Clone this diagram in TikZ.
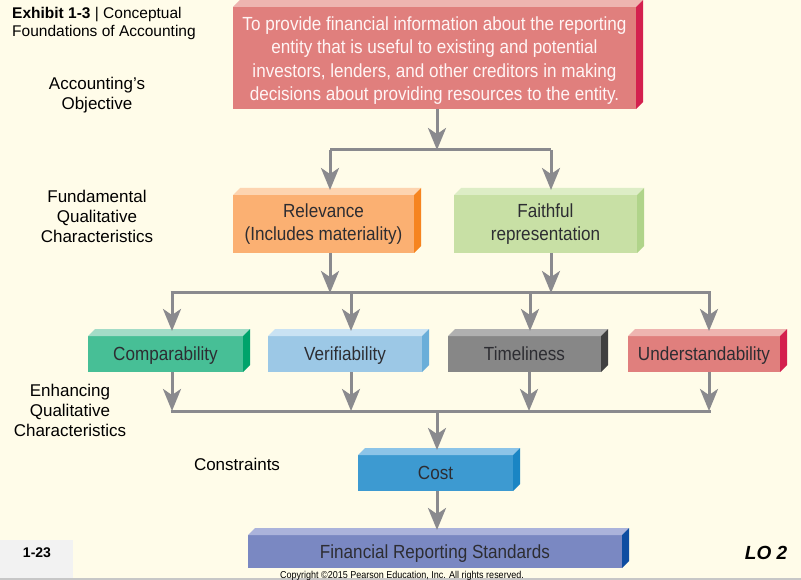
\documentclass[tikz,border=0pt]{standalone}
\usepackage{fontspec}
\setmainfont{Liberation Sans}
\newfontfamily\condfont{Liberation Sans}[FakeStretch=0.9]
\usetikzlibrary{arrows.meta}
\definecolor{bgcream}{RGB}{255,252,233}
\definecolor{arrowgray}{RGB}{138,138,142}
\definecolor{redF}{RGB}{224,127,125}\definecolor{redT}{RGB}{238,180,176}\definecolor{redS}{RGB}{212,32,78}
\definecolor{orF}{RGB}{251,176,114}\definecolor{orT}{RGB}{253,212,176}\definecolor{orS}{RGB}{246,132,31}
\definecolor{grF}{RGB}{200,224,165}\definecolor{grT}{RGB}{221,237,198}\definecolor{grS}{RGB}{176,212,138}
\definecolor{tqF}{RGB}{71,191,150}\definecolor{tqT}{RGB}{163,220,199}\definecolor{tqS}{RGB}{0,163,107}
\definecolor{lbF}{RGB}{156,200,230}\definecolor{lbT}{RGB}{201,226,243}\definecolor{lbS}{RGB}{106,174,217}
\definecolor{gyF}{RGB}{135,135,135}\definecolor{gyT}{RGB}{176,176,176}\definecolor{gyS}{RGB}{64,64,64}
\definecolor{blF}{RGB}{61,154,209}\definecolor{blT}{RGB}{140,196,232}\definecolor{blS}{RGB}{26,133,196}
\definecolor{vlF}{RGB}{122,136,194}\definecolor{vlT}{RGB}{171,179,219}\definecolor{vlS}{RGB}{14,77,161}
\definecolor{boxtext}{RGB}{45,45,50}
\newcommand\cubefaces[3]{%
  \fill[#2] (#1.north west) -- ([shift={(7,-7)}]#1.north west) -- ([shift={(7,-7)}]#1.north east) -- (#1.north east) -- cycle;
  \fill[#3] (#1.north east) -- ([shift={(7,-7)}]#1.north east) -- ([shift={(7,-7)}]#1.south east) -- (#1.south east) -- cycle;
  \coordinate (#1-t) at ([yshift=5pt]#1.north);
}
\tikzset{
  cube/.style={inner sep=0pt, outer sep=0pt, align=center, text=boxtext,
    font=\condfont\fontsize{19}{22.5}\selectfont},
  one/.style={text height=15.6pt, text depth=2pt},
  lbl/.style={inner sep=0pt, align=center, font=\fontsize{17}{20}\selectfont, text=black},
  conn/.style={draw=arrowgray, line width=3pt, -{Stealth[length=22pt,width=18pt,inset=6pt]}},
  bar/.style={draw=arrowgray, line width=3pt},
}
\begin{document}
\begin{tikzpicture}[x=1pt,y=-1pt]
\fill[bgcream] (0,0) rectangle (801,580);
\useasboundingbox (0,0) rectangle (801,580);
% bottom strip
\fill[black!5] (0,540) rectangle (73,578);
\fill[black!22] (0,578) rectangle (801,580);
% title and labels
\node[inner sep=0pt, anchor=west, font=\fontsize{15.5}{18}\selectfont] (title1) at (12,14.5) {\textbf{Exhibit 1-3} | Conceptual};
\node[inner sep=0pt, anchor=west, font=\fontsize{15.5}{18}\selectfont] (title2) at (12,32.5) {Foundations of Accounting};
\node[lbl] (lobj) at (97,95) {Accounting’s\\Objective};
\node[lbl] (lfund) at (97,216.5) {Fundamental\\Qualitative\\Characteristics};
\node[lbl] (lenh) at (70,410) {Enhancing\\Qualitative\\Characteristics};
\node[lbl] (lcon) at (237,464) {Constraints};
% boxes
\node[cube, fill=redF, minimum width=403pt, minimum height=102pt, text=white!96!red,
  font=\condfont\fontsize{19}{23.3}\selectfont] (obj) at (434.5,58) {};
\cubefaces{obj}{redT}{redS}
\node[inner sep=0pt, align=center, text=white!96!red, font=\condfont\fontsize{19}{23.3}\selectfont] (objtext) at (434.5,60.5)
  {To provide financial information about the reporting\\entity that is useful to existing and potential\\investors, lenders, and other creditors in making\\decisions about providing resources to the entity.};
\node[cube, fill=orF, minimum width=181pt, minimum height=58pt] (rel) at (323.5,224) {Relevance\\(Includes materiality)};
\cubefaces{rel}{orT}{orS}
\node[cube, fill=grF, minimum width=183pt, minimum height=58pt] (fai) at (545.5,224) {Faithful\\representation};
\cubefaces{fai}{grT}{grS}
\node[cube, one, fill=tqF, minimum width=155pt, minimum height=36pt] (comp) at (165.5,354) {Comparability};
\cubefaces{comp}{tqT}{tqS}
\node[cube, one, fill=lbF, minimum width=154pt, minimum height=36pt] (ver) at (345,354) {Verifiability};
\cubefaces{ver}{lbT}{lbS}
\node[cube, one, fill=gyF, minimum width=153pt, minimum height=36pt] (tim) at (524.5,354) {Timeliness};
\cubefaces{tim}{gyT}{gyS}
\node[cube, one, fill=redF, minimum width=152pt, minimum height=36pt] (und) at (704,354) {Understandability};
\cubefaces{und}{redT}{redS}
\node[cube, one, fill=blF, minimum width=155pt, minimum height=36pt] (cost) at (435.5,473) {Cost};
\cubefaces{cost}{blT}{blS}
\node[cube, one, fill=vlF, minimum width=374pt, minimum height=33pt] (frs) at (435,551.5) {Financial Reporting Standards};
\cubefaces{frs}{vlT}{vlS}
% connectors
\coordinate (j1) at (437,150);
\coordinate (j1l) at (330,150);
\coordinate (j1r) at (551,150);
\draw[conn] (obj.south -| j1) -- (j1);
\draw[bar] (j1l) -- (j1r);
\draw[conn] (j1l) -- (j1l |- rel-t);
\draw[conn] (j1r) -- (j1r |- fai-t);
\coordinate (j2a) at (172,293);
\coordinate (j2b) at (351,293);
\coordinate (j2c) at (530,293);
\coordinate (j2d) at (709,293);
\draw[conn] (rel.south -| j1l) -- (j1l |- j2a);
\draw[conn] (fai.south -| j1r) -- (j1r |- j2a);
\draw[bar] ([xshift=-1.5pt]j2a) -- ([xshift=1.5pt]j2d);
\draw[conn] (j2a) -- (j2a |- comp-t);
\draw[conn] (j2b) -- (j2b |- ver-t);
\draw[conn] (j2c) -- (j2c |- tim-t);
\draw[conn] (j2d) -- (j2d |- und-t);
\coordinate (j3a) at (172,411);
\coordinate (j3b) at (351,411);
\coordinate (j3c) at (529,411);
\coordinate (j3d) at (709,411);
\coordinate (j3) at (437,411);
\draw[conn] (comp.south -| j3a) -- (j3a);
\draw[conn] (ver.south -| j3b) -- (j3b);
\draw[conn] (tim.south -| j3c) -- (j3c);
\draw[conn] (und.south -| j3d) -- (j3d);
\draw[bar] ([xshift=-1.5pt]j3a) -- ([xshift=1.5pt]j3d);
\draw[conn] (j3) -- (j3 |- cost-t);
\draw[conn] (cost.south -| j3) -- (j3 |- frs-t);
% footer
\node[inner sep=0pt, font=\bfseries\fontsize{14}{16}\selectfont] (page) at (37,553) {1-23};
\node[inner sep=0pt, font=\bfseries\itshape\fontsize{19}{21}\selectfont] (lo) at (766,553) {LO 2};
\node[inner sep=0pt, font=\condfont\fontsize{10}{11}\selectfont] (copy) at (402,576) {Copyright ©2015 Pearson Education, Inc. All rights reserved.};
\end{tikzpicture}
\end{document}
